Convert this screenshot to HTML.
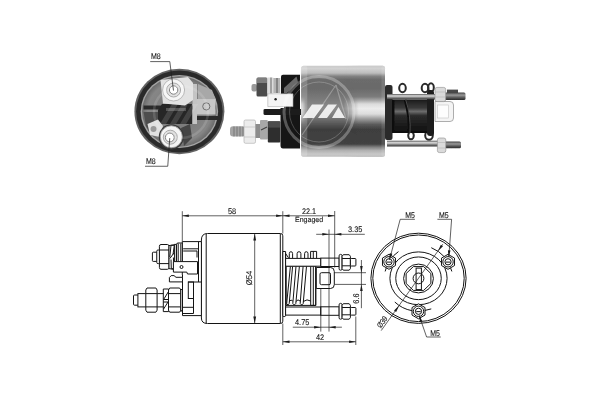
<!DOCTYPE html>
<html><head><meta charset="utf-8">
<style>
html,body{margin:0;padding:0;background:#fff;}
svg{display:block;will-change:transform;font-family:"Liberation Sans",sans-serif;}
.l{stroke:#141414;stroke-width:1;fill:none;}
.lf{stroke:#141414;stroke-width:1;fill:#fff;}
.t{fill:#111;font-size:8.2px;stroke:#111;stroke-width:0.1;text-rendering:geometricPrecision;}
.d{stroke:#1c1c1c;stroke-width:0.7;fill:none;}
.a{fill:#1a1a1a;stroke:none;}
</style></head><body>
<svg width="600" height="400" viewBox="0 0 600 400">
<defs>
<filter id="b1" x="-10%" y="-10%" width="120%" height="120%"><feGaussianBlur stdDeviation="0.7"/></filter>
<filter id="bt" x="-20%" y="-20%" width="140%" height="140%"><feGaussianBlur stdDeviation="0.25"/></filter>
<filter id="b2" x="-10%" y="-10%" width="120%" height="120%"><feGaussianBlur stdDeviation="1.2"/></filter>
<linearGradient id="gBody" x1="0" y1="0" x2="0" y2="1">
<stop offset="0" stop-color="#cacaca"/><stop offset="0.03" stop-color="#d2d2d2"/><stop offset="0.08" stop-color="#bcbcbc"/><stop offset="0.115" stop-color="#828282"/>
<stop offset="0.15" stop-color="#6c6c6c"/><stop offset="0.25" stop-color="#6a6a6a"/><stop offset="0.34" stop-color="#7c7c7c"/>
<stop offset="0.38" stop-color="#a8a8a8"/><stop offset="0.42" stop-color="#dcdcdc"/><stop offset="0.47" stop-color="#ececec"/>
<stop offset="0.53" stop-color="#dcdcdc"/><stop offset="0.58" stop-color="#a0a0a0"/><stop offset="0.645" stop-color="#5a5a5a"/>
<stop offset="0.70" stop-color="#3e3e3e"/><stop offset="0.86" stop-color="#424242"/><stop offset="0.895" stop-color="#828282"/>
<stop offset="0.93" stop-color="#b0b0b0"/><stop offset="0.97" stop-color="#c8c8c8"/><stop offset="1" stop-color="#c0c0c0"/></linearGradient>
<linearGradient id="gBody2" x1="0" y1="0" x2="0" y2="1">
<stop offset="0" stop-color="#cacaca"/><stop offset="0.03" stop-color="#d2d2d2"/><stop offset="0.08" stop-color="#bcbcbc"/><stop offset="0.115" stop-color="#828282"/>
<stop offset="0.15" stop-color="#6c6c6c"/><stop offset="0.25" stop-color="#6a6a6a"/><stop offset="0.36" stop-color="#7a7a7a"/>
<stop offset="0.47" stop-color="#8c8c8c"/><stop offset="0.56" stop-color="#7a7a7a"/><stop offset="0.645" stop-color="#545454"/>
<stop offset="0.70" stop-color="#3e3e3e"/><stop offset="0.86" stop-color="#424242"/><stop offset="0.895" stop-color="#828282"/>
<stop offset="0.93" stop-color="#b0b0b0"/><stop offset="0.97" stop-color="#c8c8c8"/><stop offset="1" stop-color="#c0c0c0"/></linearGradient>
<linearGradient id="gHM" gradientUnits="userSpaceOnUse" x1="301" y1="0" x2="386" y2="0">
<stop offset="0" stop-color="#fff"/><stop offset="0.06" stop-color="#000"/><stop offset="0.50" stop-color="#000"/><stop offset="0.68" stop-color="#fff"/><stop offset="1" stop-color="#fff"/></linearGradient>
<mask id="mHL" maskUnits="userSpaceOnUse" x="300" y="60" width="90" height="100"><rect x="300" y="60" width="90" height="100" fill="url(#gHM)"/></mask>
<linearGradient id="gStud" x1="0" y1="0" x2="0" y2="1">
<stop offset="0" stop-color="#555"/><stop offset="0.35" stop-color="#ddd"/><stop offset="0.7" stop-color="#777"/><stop offset="1" stop-color="#333"/></linearGradient>
<linearGradient id="gStud2" x1="0" y1="0" x2="0" y2="1">
<stop offset="0" stop-color="#444"/><stop offset="0.35" stop-color="#999"/><stop offset="0.7" stop-color="#555"/><stop offset="1" stop-color="#2a2a2a"/></linearGradient>
<linearGradient id="gCoil" x1="0" y1="0" x2="0" y2="1">
<stop offset="0" stop-color="#1a1a1a"/><stop offset="0.25" stop-color="#3a3a3a"/><stop offset="0.36" stop-color="#6c6c6c"/><stop offset="0.48" stop-color="#2c2c2c"/><stop offset="1" stop-color="#0e0e0e"/></linearGradient>
<radialGradient id="gFace" cx="0.5" cy="0.5" r="0.5">
<stop offset="0" stop-color="#747474"/><stop offset="0.85" stop-color="#868686"/><stop offset="1" stop-color="#6a6a6a"/></radialGradient>
<radialGradient id="gTerm" cx="0.5" cy="0.5" r="0.5">
<stop offset="0" stop-color="#fff"/><stop offset="0.35" stop-color="#f4f4f4"/><stop offset="0.5" stop-color="#999"/><stop offset="0.65" stop-color="#eee"/><stop offset="1" stop-color="#ddd"/></radialGradient>
</defs>

<!-- ============ PHOTO 1: end view ============ -->
<g id="photo1">
<g filter="url(#b1)">
<ellipse cx="179.400" cy="111.500" rx="45" ry="42.800" fill="#646464"/>
<ellipse cx="179.400" cy="111.500" rx="43.300" ry="41.100" fill="#2c2c2c"/>
<ellipse cx="179.400" cy="111.500" rx="38.700" ry="36.600" fill="#a4a4a4"/>
<ellipse cx="179.400" cy="111.500" rx="37.300" ry="35.200" fill="url(#gFace)"/>
<!-- lower-left darker region -->
<path d="M143.500 112 H160 V126 L152 136 L146 126 Z" fill="#4e4e4e"/>
<path d="M181 128 L190 124 L192 138 L184 146 Z" fill="#444"/>
<!-- upper right lighter blob -->
<path d="M198 84 L212 90 L216 100 L198 100 Z" fill="#a8a8a8"/>
<!-- horizontal dark bars -->
<rect x="143.500" y="105.500" width="72" height="4" fill="#2c2c2c"/>
<rect x="193" y="116" width="25" height="4" fill="#2a2a2a"/>
<!-- centre dark block -->
<path d="M162 104 H192 V124 H158 V110 Z" fill="#262626"/>
<path d="M166 108 H186 V111 H166 Z" fill="#555"/>
<!-- right vertical plate -->
<rect x="192.500" y="84" width="4.500" height="40" fill="#c4c4c4"/>
<!-- right box with circle -->
<rect x="197" y="99" width="18.500" height="15.500" fill="#c6c6c6"/>
<circle cx="206.300" cy="106.400" r="3.600" fill="#c8c8c8" stroke="#666" stroke-width="0.900"/>
<!-- top terminal plate -->
<path d="M160.500 80 L188 77 L193 83 L193 100 L185 105.500 L163 103.500 Z" fill="#e2e2e2"/>
<circle cx="173.600" cy="90" r="11" fill="#f6f6f6" stroke="#aaa" stroke-width="0.800"/>
<circle cx="173.600" cy="90" r="7" fill="#e2e2e2" stroke="#999" stroke-width="0.800"/>
<circle cx="173.600" cy="90" r="4.200" fill="#fff" stroke="#777" stroke-width="0.900"/>
<!-- bottom terminal -->
<path d="M147.500 124 L158 119.500 L163 126 L160 137 L150 135 Z" fill="#e0e0e0"/>
<circle cx="153.500" cy="129" r="3" fill="#999"/>
<circle cx="171.300" cy="136.800" r="12.600" fill="#3a3a3a"/>
<circle cx="171.300" cy="136.800" r="11" fill="#f4f4f4" stroke="#999" stroke-width="0.800"/>
<circle cx="170.300" cy="137.200" r="7" fill="#e0e0e0" stroke="#999" stroke-width="0.800"/>
<circle cx="169.800" cy="137.500" r="4.400" fill="#fff" stroke="#777" stroke-width="0.900"/>
</g>
<!-- faint watermark -->
<g opacity="0.130" filter="url(#b1)">
<ellipse cx="181" cy="112" rx="27" ry="26" fill="none" stroke="#fff" stroke-width="2.500"/>
<path d="M160 124 L172 104 L178 104 L166 124 Z M170 124 L182 104 L188 104 L176 124 Z M180 124 L192 104 L198 104 L186 124 Z" fill="#fff"/>
</g>
</g>
<!-- labels M8 -->
<path class="d" stroke-width="0.9" d="M150.200 61.600 H169.800 L173.500 90.600"/>
<text class="t" transform="translate(151,58.700) scale(0.86,1)">M8</text>
<path class="d" stroke-width="0.9" d="M145 166.250 H167.750 L169.750 138.100"/>
<text class="t" transform="translate(146,163.600) scale(0.86,1)">M8</text>

<!-- ============ PHOTO 2: side view ============ -->
<g id="photo2" filter="url(#b1)">
<!-- rear cap -->
<path d="M281 76.800 Q281 74.800 283 74.800 H300 V148.500 H283 Q280.500 148.500 280.500 145.500 V108 H284 V94 H281 Z" fill="#161616"/>
<path d="M284 88 L296.500 76.500 L298 82 L287 93 H284 Z" fill="#6a6a6a"/>
<!-- upper terminal -->
<rect x="251.500" y="84" width="5.500" height="7.500" rx="2" fill="#9a9a9a"/>
<rect x="256.500" y="77.500" width="11" height="19" rx="1.500" fill="#4c4c4c"/>
<rect x="257" y="78" width="10" height="5" fill="#7e7e7e"/>
<rect x="267.300" y="77.500" width="6" height="16" fill="#dcdcdc"/>
<rect x="270.500" y="77.500" width="1" height="16" fill="#666"/>
<rect x="273.300" y="78" width="7" height="15" fill="#b4b4b4"/>
<rect x="276.500" y="78" width="1" height="15" fill="#555"/>
<!-- spade -->
<path d="M267.800 93.800 H293 V106.600 H267.800 Z" fill="#f4f4f4" stroke="#aaa" stroke-width="0.600"/>
<circle cx="275.600" cy="99.200" r="1.200" fill="#222"/>
<!-- black clip -->
<path d="M263.500 110 Q263.500 109 265 109 H301 V115 H265 Q263.500 115 263.500 113.500 Z" fill="#1e1e1e"/>
<!-- lower terminal -->
<rect x="230" y="126.200" width="15" height="10.400" rx="3" fill="#a4a4a4"/>
<path d="M234 126.500 V136.500 M237 126.500 V136.500 M240 126.500 V136.500 M243 126.500 V136.500" stroke="#666" stroke-width="0.700"/>
<rect x="244" y="120" width="11.500" height="23.300" rx="1.500" fill="#ececec" stroke="#aaa" stroke-width="0.600"/>
<path d="M244 127 H255.500 M244 137 H255.500" stroke="#bbb" stroke-width="0.600"/>
<rect x="255.500" y="124" width="5" height="14" fill="#8c8c8c"/>
<rect x="260" y="120" width="7.800" height="19.500" rx="1" fill="#a8a8a8"/>
<path d="M261 130 L267 127" stroke="#444" stroke-width="1.200"/>
<rect x="267.800" y="121.300" width="12.500" height="21.300" rx="1" fill="#2e2e2e"/>
<rect x="268.200" y="121.600" width="11.800" height="6" fill="#4e4e4e"/>
<!-- body -->
<rect x="301.300" y="65.800" width="83.700" height="91" rx="2.500" fill="url(#gBody2)"/>
<rect x="301.300" y="65.800" width="83.700" height="91" rx="2.500" fill="url(#gBody)" mask="url(#mHL)"/>
<rect x="301.300" y="65.500" width="6" height="91.200" rx="3" fill="#fff" opacity="0.180"/>
<rect x="381.500" y="66" width="3.500" height="90.500" rx="1.500" fill="#fff" opacity="0.100"/>
<!-- flange -->
<rect x="385" y="85" width="7.500" height="55" rx="2" fill="#2a2a2a"/>
<!-- spring loops -->
<ellipse cx="402.500" cy="88" rx="3.300" ry="4.200" fill="none" stroke="#2a2a2a" stroke-width="2"/>
<ellipse cx="425" cy="88" rx="3.300" ry="4.200" fill="none" stroke="#2a2a2a" stroke-width="2"/>
<ellipse cx="431" cy="87.500" rx="2.800" ry="4.200" fill="none" stroke="#2a2a2a" stroke-width="2"/>
<ellipse cx="411" cy="135.500" rx="2.800" ry="3.800" fill="none" stroke="#2a2a2a" stroke-width="2"/>
<ellipse cx="429" cy="135.500" rx="3.800" ry="4.200" fill="none" stroke="#2a2a2a" stroke-width="2"/>
<!-- coil -->
<rect x="392" y="99.500" width="37" height="33.500" fill="url(#gCoil)"/>
<path d="M405 100 Q410 116 409 133" stroke="#0c0c0c" stroke-width="2.600" fill="none"/>
<path d="M405.800 100 Q411 116 410 133" stroke="#777" stroke-width="0.600" fill="none"/>
<rect x="427" y="90" width="7" height="46" rx="3" fill="#1c1c1c"/>
<rect x="392" y="100" width="2.500" height="33" fill="#111"/>
<!-- fork -->
<path d="M435 101.500 H450 Q453.500 101.500 453.500 105 V118 Q453.500 121.500 450 121.500 H435 Z" fill="#f4f4f4" stroke="#999" stroke-width="0.800"/>
<rect x="437.500" y="105" width="11" height="13" fill="#fdfdfd" stroke="#c4c4c4" stroke-width="0.600"/>
<!-- studs -->
<rect x="447" y="89.600" width="11" height="3.400" fill="#4a4a4a"/>
<rect x="387" y="94" width="52" height="5.500" fill="url(#gStud)"/>
<rect x="444" y="92.500" width="21.500" height="7.500" rx="1.500" fill="url(#gStud2)"/>
<rect x="387" y="140.700" width="52" height="5.800" fill="url(#gStud)"/>
<rect x="444" y="141.500" width="17" height="6.800" rx="1.500" fill="url(#gStud2)"/>
<rect x="435" y="87.400" width="10.700" height="14.200" rx="2" fill="#dadada" stroke="#8c8c8c" stroke-width="0.600"/>
<path d="M435 92 H445.700 M435 97 H445.700" stroke="#aaa" stroke-width="0.500"/>
<rect x="437.400" y="138" width="8.400" height="14.600" rx="2" fill="#dadada" stroke="#8c8c8c" stroke-width="0.600"/>
<path d="M437.400 142.500 H445.800 M437.400 148 H445.800" stroke="#aaa" stroke-width="0.500"/>
</g>
 <!-- watermark -->
<g opacity="0.280" filter="url(#b1)">
<ellipse cx="319" cy="112" rx="35" ry="35.500" fill="none" stroke="#fff" stroke-width="3"/>
<ellipse cx="319" cy="112" rx="29.500" ry="30" fill="none" stroke="#fff" stroke-width="0.800"/>
<path d="M302 135 L336 85" stroke="#fff" stroke-width="1.200" fill="none"/>
<path d="M336 85 L346 119" stroke="#fff" stroke-width="1.200" fill="none"/>
</g>
<g opacity="0.850" filter="url(#b1)">
<path d="M302.500 118 L312 104.500 L324 104.500 L314 118 Z M318 118 L328 104.500 L337 104.500 L327 118 Z M332 118 L338.500 107 L345 118 Z" fill="#fff"/>
</g>

<!-- ============ DRAWING: side view ============ -->
<g id="draw1">
<!-- body -->
<path class="lf" d="M207.500 233.500 H280.500 Q282.800 233.500 282.800 235.800 V321.200 Q282.800 323.500 280.500 323.500 H207.500 Q201.400 323.500 201.400 318 V240 Q201.400 233.500 207.500 233.500 Z"/>
<path class="l" d="M280.300 234 V323.200 M206.200 234 V323.200"/>
<!-- Ø54 -->
<path class="d" d="M254.700 234 V323"/>
<path class="a" d="M254.700 233.700 L253.300 240.500 L256.100 240.500 Z"/>
<path class="a" d="M254.700 323.300 L253.300 316.500 L256.100 316.500 Z"/>
<text class="t" transform="translate(251.900,285.300) rotate(-90) scale(0.94,1)">Ø54</text>
<!-- cap -->
<path class="lf" d="M182.300 241.600 H201.400 V315.600 H182.500 V275 H182.300 Z"/>
<path class="l" d="M198.500 241.800 V282 M188 282 H201.400"/>
<path class="l" d="M183.200 248.800 H198.500 M183.200 251 H197 M197 250.800 V257.500"/>
<path class="l" d="M182.500 307.300 H193.500 M182.500 313.500 H193.500 M193.500 298.500 V313.500"/>
<!-- upper terminal -->
<rect class="lf" x="152.400" y="252.200" width="5" height="9.200" rx="0.800"/>
<rect class="lf" x="156.750" y="250" width="3" height="13.600" rx="1.200"/>
<path class="lf" d="M161 244.500 H167.400 Q169 244.500 169 246.300 V267.500 Q169 269.300 167.400 269.300 H161 Q159.400 269.300 159.400 267.500 V246.300 Q159.400 244.500 161 244.500 Z"/>
<path class="l" d="M159.400 250 H169 M159.400 263.600 H169"/>
<path class="lf" d="M169 245.600 L174.700 244.700 V269.500 L169 268.600 Z" stroke="none"/>
<path class="l" d="M171 245.300 H174.300 L173 254.500 M171 245.300 L169.800 257 M174.300 252.500 L169.800 258.600 M171 259.500 L171.300 268.700 H173.800 L173.400 257.500" stroke-width="0.700"/>
<rect class="lf" x="174.700" y="244.400" width="1.900" height="25.400"/>
<path class="lf" d="M178 243 H182.300 V270.600 H178 Q176.500 270.600 176.500 269 V244.600 Q176.500 243 178 243 Z"/>
<path class="l" d="M178.200 243.500 V261.600 M180.800 243.500 V261.600" stroke-width="0.700"/>
<!-- spade -->
<path class="lf" d="M173.400 261.600 H197.500 V274 H187.500 L186.800 272.100 H173.400 Z"/>
<circle class="l" cx="181.500" cy="267" r="1.500"/>
<!-- clip -->
<path class="lf" d="M169.400 277.500 L171.200 275.600 H174 L176 277.300 H182.500 V281.900 H169.400 Z"/>
<rect class="l" x="188.300" y="282" width="5.200" height="16.500"/>
<!-- lower terminal -->
<rect class="lf" x="133.500" y="295" width="5" height="10.200" rx="1"/>
<rect class="lf" x="137.900" y="293.600" width="44" height="13.300" stroke-width="1.100"/>
<path class="lf" d="M147 288 H155.900 L157.100 290 V310.200 L155.900 312.200 H147 L145.800 310.200 V290 Z"/>
<path class="l" d="M145.800 293.600 H157.100 M145.800 306.900 H157.100"/>
<path class="lf" d="M163.300 289 H168.500 V311.600 H163.300 Z"/>
<path class="l" d="M168.200 292 L163.600 299.500 H168.400 M163.400 302 H168 L163.600 309" stroke-width="1.100"/>
<path class="lf" d="M169.700 288 H179.600 L180.800 290 V310.200 L179.600 312.200 H169.700 L168.500 310.200 V290 Z"/>
<path class="l" d="M168.500 293.600 H180.800 M168.500 306.900 H180.800"/>
<rect class="lf" x="180.800" y="289.500" width="1.700" height="21.500"/>
<!-- dim 58 / 22.1 -->
<path class="d" d="M182.300 211.200 V241.500 M282.800 211.200 V233.500"/>
<path class="d" d="M182.300 215.800 H334.700"/>
<path class="a" d="M182.300 215.800 L188.800 214.500 L188.800 217.100 Z"/>
<path class="a" d="M282.800 215.800 L276.100 214.500 L276.100 217.100 Z"/>
<path class="a" d="M282.800 215.800 L289.500 214.500 L289.500 217.100 Z"/>
<path class="a" d="M334.700 215.800 L328 214.500 L328 217.100 Z"/>
<text class="t" transform="translate(228,213.800) scale(0.9,1)">58</text>
<text class="t" transform="translate(302,213.800) scale(0.88,1)">22.1</text>
<text class="t" style="font-size:7.5px" transform="translate(295,222.400) scale(0.935,1)">Engaged</text>
<!-- flange -->
<path class="lf" d="M282.800 251.500 H285.600 V315.500 Q285.600 316.600 284.200 316.600 Q282.800 316.600 282.800 315.500 Z"/>
<!-- spring -->
<path class="lf" d="M285.600 266 H315.800 V305.400 H285.600 Z" stroke="none"/>
<path class="l" d="M286.200 266.300 V305.400" stroke-width="1.500"/>
<path class="l" d="M290.400 266.300 L286.700 303.500 Q287.800 306.500 289.200 303.500 L292.600 266.300"/>
<path class="l" d="M296 266.300 L292.800 303.500 Q294.300 306.500 295.800 303.500 L299.400 266.300"/>
<path class="l" d="M303.100 266.300 L300.200 303.500 Q301.700 306.500 303.200 303.500 L306.500 266.300"/>
<path class="l" d="M289.300 301.500 Q291 298.800 292.800 301" stroke-width="0.800"/>
<path class="l" d="M295.900 301.500 Q298 298.500 300.100 301" stroke-width="0.800"/>
<path class="l" d="M303.300 301.500 Q307 298.500 310.700 301" stroke-width="0.800"/>
<path class="l" d="M310.700 266.300 V305.400 H315.700 V266.300 M313.300 266.300 V305.400"/>
<!-- coil tops -->
<path class="l" d="M289.300 258.400 V253.600 Q289.300 251.700 290.950 251.700 Q292.600 251.700 292.600 253.600 V258.400" stroke-width="1.100"/>
<path class="l" d="M297.100 258.400 V253.600 Q297.100 251.700 299 251.700 Q300.900 251.700 300.900 253.600 V258.400" stroke-width="1.100"/>
<path class="l" d="M304.600 258.400 V253.600 Q304.600 251.700 306.300 251.700 Q308 251.700 308 253.600 V258.400" stroke-width="1.100"/>
<path class="l" d="M310.600 258.400 V251.400 H316.600 V258.400 M313.300 251.400 V258.400" stroke-width="1.100"/>
<path class="l" d="M285.600 258 V253.500 L288.500 257.800" stroke-width="1"/>
<!-- plunger fork -->
<path class="lf" d="M316.300 267.500 H330.500 Q334.300 267.500 334.300 271.500 V284.500 Q334.300 288.500 330.500 288.500 H316.300 Z"/>
<rect class="lf" x="320" y="272.700" width="10.500" height="12" rx="1.500"/>
<!-- studs -->
<rect class="lf" x="285.600" y="258.400" width="35.200" height="7.800"/>
<rect class="lf" x="320.800" y="258.100" width="18.400" height="8.400" stroke-width="1.150"/>
<rect class="lf" x="339.100" y="254.400" width="3" height="15.800" rx="1.400"/>
<path class="lf" d="M343.300 254.700 H349.200 L350.400 256.300 V268.600 L349.200 270.200 H343.300 L342.100 268.600 V256.300 Z"/>
<path class="l" d="M342.100 258.500 H350.400 M342.100 265.800 H350.400"/>
<rect class="lf" x="350.400" y="258.500" width="5.500" height="7.500" rx="0.800"/>
<rect class="lf" x="285.600" y="307" width="35.200" height="8.100"/>
<rect class="lf" x="320.800" y="306.800" width="18.400" height="8.500" stroke-width="1.150"/>
<rect class="lf" x="339.100" y="303.400" width="3" height="15.800" rx="1.400"/>
<path class="lf" d="M343.300 303.700 H349.200 L350.400 305.300 V317.600 L349.200 319.200 H343.300 L342.100 317.600 V305.300 Z"/>
<path class="l" d="M342.100 307.500 H350.400 M342.100 314.800 H350.400"/>
<rect class="lf" x="350.400" y="307.500" width="5.500" height="7.600" rx="0.800"/>
<!-- ext lines -->
<path class="d" d="M282.800 323.500 V345 M334.700 211 V267.500 M329 229.500 V331.600 M320.800 288.500 V331.600 M355.800 316.500 V345"/>
<!-- 3.35 -->
<path class="d" d="M316.200 234.300 H364.800"/>
<path class="a" d="M329 234.300 L322.300 233 L322.300 235.600 Z"/>
<path class="a" d="M334.700 234.300 L341.400 233 L341.400 235.600 Z"/>
<text class="t" transform="translate(348,231.600) scale(0.9,1)">3.35</text>
<!-- 6.6 -->
<path class="d" d="M334.300 272.700 H366 M334.300 284.400 H366 M361.400 260 V308.200"/>
<path class="a" d="M361.400 272.700 L360.100 266 L362.700 266 Z"/>
<path class="a" d="M361.400 284.400 L360.100 291.100 L362.700 291.100 Z"/>
<text class="t" transform="translate(358.600,303.700) rotate(-90) scale(0.9,1)">6.6</text>
<!-- 4.75 -->
<path class="d" d="M292.800 327.200 H341.900"/>
<path class="a" d="M320.800 327.200 L314.100 325.900 L314.100 328.500 Z"/>
<path class="a" d="M329 327.200 L335.700 325.900 L335.700 328.500 Z"/>
<text class="t" transform="translate(295,325) scale(0.9,1)">4.75</text>
<!-- 42 -->
<path class="d" d="M282.800 341.800 H355.800"/>
<path class="a" d="M282.800 341.800 L289.500 340.500 L289.500 343.100 Z"/>
<path class="a" d="M355.800 341.800 L349.100 340.500 L349.100 343.100 Z"/>
<text class="t" transform="translate(316,339.600) scale(0.9,1)">42</text>
</g>

<!-- ============ DRAWING: end view ============ -->
<g id="draw2">
<ellipse class="l" cx="418.5" cy="278.3" rx="47.600" ry="45.100"/>
<ellipse class="l" cx="418.5" cy="278.3" rx="45.700" ry="43.300"/>
<ellipse class="l" cx="418.5" cy="278.3" rx="28.600" ry="26.400"/>
<ellipse class="l" cx="418.5" cy="278.3" rx="22.750" ry="21.350"/>
<ellipse class="l" cx="418.5" cy="278.5" rx="14.900" ry="14.400" stroke-width="1.200"/>
<path class="l" d="M430.88 283.44 L423.63 290.42 L413.37 290.42 L406.12 283.44 L406.12 273.56 L413.37 266.58 L423.63 266.58 L430.88 273.56 Z" stroke-width="1.100"/>
<rect class="lf" x="416.100" y="268.100" width="5.300" height="21.500"/>
<circle class="l" cx="418.5" cy="278.40000000000003" r="5.400"/>
<path class="l" d="M431.27 247.70 A34.1 33.0 0 0 1 451.85 271.44 M385.15 271.44 A34.1 33.0 0 0 1 398.46 251.60 M394.81 302.04 A34.1 33.0 0 0 0 431.27 308.90" stroke-width="0.800"/>
<path class="lf" d="M388.97 269.30 L382.47 265.55 L382.47 258.05 L388.97 254.30 L395.46 258.05 L395.46 265.55 Z" stroke-width="1.500"/>
<circle class="l" cx="388.97" cy="261.80" r="5.200" stroke-width="1.300"/>
<circle class="l" cx="388.97" cy="261.80" r="3.100" stroke-width="0.800"/>
<path class="l" d="M386.77 262.10 H391.17" stroke-width="0.800"/>
<path class="lf" d="M448.03 269.30 L441.54 265.55 L441.54 258.05 L448.03 254.30 L454.53 258.05 L454.53 265.55 Z" stroke-width="1.500"/>
<circle class="l" cx="448.03" cy="261.80" r="5.200" stroke-width="1.300"/>
<circle class="l" cx="448.03" cy="261.80" r="3.100" stroke-width="0.800"/>
<path class="l" d="M445.83 262.10 H450.23" stroke-width="0.800"/>
<path class="lf" d="M418.50 318.80 L412.00 315.05 L412.00 307.55 L418.50 303.80 L425.00 307.55 L425.00 315.05 Z" stroke-width="1.500"/>
<circle class="l" cx="418.50" cy="311.30" r="5.200" stroke-width="1.300"/>
<circle class="l" cx="418.50" cy="311.30" r="3.100" stroke-width="0.800"/>
<path class="l" d="M416.30 311.60 H420.70" stroke-width="0.800"/>
<path class="d" d="M381.20 330.60 L442.80 244.17"/>
<path class="a" d="M437.85 251.13 L440.85 244.67 L442.97 246.18 Z"/>
<path class="a" d="M399.15 305.47 L396.15 311.93 L394.03 310.42 Z"/>
<text class="t" style="font-size:7.8px" transform="translate(380.700,328.600) rotate(-54.500) scale(0.85,1)">Ø39</text>
<path class="d" d="M414.900 219.300 H400.200 L389.47 259.80"/>
<path class="a" d="M389.27 260.30 L389.80 253.20 L392.31 253.86 Z"/>
<text class="t" transform="translate(405.300,217.600) scale(0.85,1)">M5</text>
<path class="d" d="M437.400 219.300 H451.600 L448.83 256.80"/>
<path class="a" d="M448.63 257.30 L447.92 250.22 L450.51 250.43 Z"/>
<text class="t" transform="translate(439,217.600) scale(0.85,1)">M5</text>
<path class="d" d="M440.750 337 H426.600 L419.10 315.30"/>
<path class="a" d="M419.00 315.00 L422.34 321.29 L419.86 322.07 Z"/>
<text class="t" transform="translate(430.300,335.700) scale(0.85,1)">M5</text>
</g>
</svg>
</body></html>
